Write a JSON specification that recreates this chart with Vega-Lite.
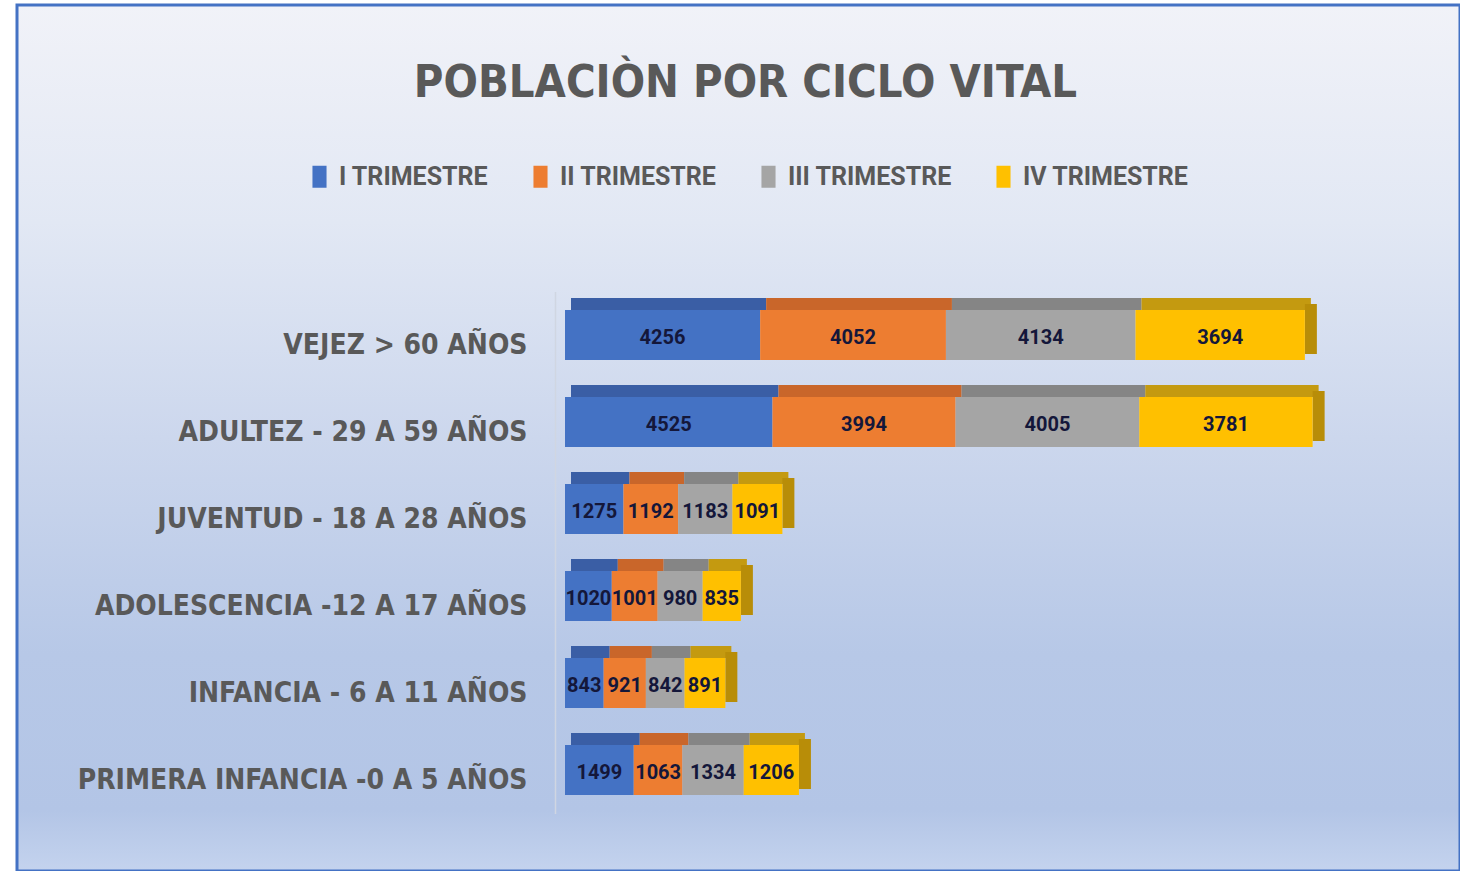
{
  "$schema": "https://vega.github.io/schema/vega-lite/v6.json",
  "autosize": {"type": "none"},
  "padding": {"left": 17, "top": 5, "right": 0, "bottom": 0},
  "width": 1443,
  "height": 866,
  "background": "#ffffff",
  "title": {
    "text": "POBLACIÒN POR CICLO VITAL",
    "orient": "top",
    "anchor": "middle",
    "frame": "group",
    "offset": -137,
    "dx": 7,
    "baseline": "alphabetic",
    "font": "DejaVu Sans Condensed, sans-serif",
    "fontSize": 45,
    "fontWeight": "bold",
    "color": "#595959"
  },
  "data": {
    "values": [
      {"ciclo": "VEJEZ > 60 AÑOS", "trimestre": "I TRIMESTRE", "q": 1, "valor": 4256},
      {"ciclo": "VEJEZ > 60 AÑOS", "trimestre": "II TRIMESTRE", "q": 2, "valor": 4052},
      {"ciclo": "VEJEZ > 60 AÑOS", "trimestre": "III TRIMESTRE", "q": 3, "valor": 4134},
      {"ciclo": "VEJEZ > 60 AÑOS", "trimestre": "IV TRIMESTRE", "q": 4, "valor": 3694},
      {"ciclo": "ADULTEZ -  29 A 59 AÑOS", "trimestre": "I TRIMESTRE", "q": 1, "valor": 4525},
      {"ciclo": "ADULTEZ -  29 A 59 AÑOS", "trimestre": "II TRIMESTRE", "q": 2, "valor": 3994},
      {"ciclo": "ADULTEZ -  29 A 59 AÑOS", "trimestre": "III TRIMESTRE", "q": 3, "valor": 4005},
      {"ciclo": "ADULTEZ -  29 A 59 AÑOS", "trimestre": "IV TRIMESTRE", "q": 4, "valor": 3781},
      {"ciclo": "JUVENTUD - 18 A 28 AÑOS", "trimestre": "I TRIMESTRE", "q": 1, "valor": 1275},
      {"ciclo": "JUVENTUD - 18 A 28 AÑOS", "trimestre": "II TRIMESTRE", "q": 2, "valor": 1192},
      {"ciclo": "JUVENTUD - 18 A 28 AÑOS", "trimestre": "III TRIMESTRE", "q": 3, "valor": 1183},
      {"ciclo": "JUVENTUD - 18 A 28 AÑOS", "trimestre": "IV TRIMESTRE", "q": 4, "valor": 1091},
      {"ciclo": "ADOLESCENCIA -12 A 17 AÑOS", "trimestre": "I TRIMESTRE", "q": 1, "valor": 1020},
      {"ciclo": "ADOLESCENCIA -12 A 17 AÑOS", "trimestre": "II TRIMESTRE", "q": 2, "valor": 1001},
      {"ciclo": "ADOLESCENCIA -12 A 17 AÑOS", "trimestre": "III TRIMESTRE", "q": 3, "valor": 980},
      {"ciclo": "ADOLESCENCIA -12 A 17 AÑOS", "trimestre": "IV TRIMESTRE", "q": 4, "valor": 835},
      {"ciclo": "INFANCIA -  6 A 11 AÑOS", "trimestre": "I TRIMESTRE", "q": 1, "valor": 843},
      {"ciclo": "INFANCIA -  6 A 11 AÑOS", "trimestre": "II TRIMESTRE", "q": 2, "valor": 921},
      {"ciclo": "INFANCIA -  6 A 11 AÑOS", "trimestre": "III TRIMESTRE", "q": 3, "valor": 842},
      {"ciclo": "INFANCIA -  6 A 11 AÑOS", "trimestre": "IV TRIMESTRE", "q": 4, "valor": 891},
      {"ciclo": "PRIMERA INFANCIA -0 A 5 AÑOS", "trimestre": "I TRIMESTRE", "q": 1, "valor": 1499},
      {"ciclo": "PRIMERA INFANCIA -0 A 5 AÑOS", "trimestre": "II TRIMESTRE", "q": 2, "valor": 1063},
      {"ciclo": "PRIMERA INFANCIA -0 A 5 AÑOS", "trimestre": "III TRIMESTRE", "q": 3, "valor": 1334},
      {"ciclo": "PRIMERA INFANCIA -0 A 5 AÑOS", "trimestre": "IV TRIMESTRE", "q": 4, "valor": 1206}
    ]
  },
  "encoding": {
    "y": {
      "field": "ciclo",
      "type": "nominal",
      "sort": null,
      "scale": {"range": [286.5, 808.5], "paddingInner": 0, "paddingOuter": 0},
      "axis": {
        "title": null,
        "offset": -538,
        "domainColor": "#d0d6e2",
        "domainWidth": 1.5,
        "ticks": false,
        "labelPadding": 28,
        "labelOffset": 11,
        "labelFont": "DejaVu Sans Condensed, sans-serif",
        "labelFontSize": 28,
        "labelFontWeight": "bold",
        "labelColor": "#595959",
        "labelLimit": 600
      }
    }
  },
  "layer": [
    {
      "mark": {"type": "bar", "height": 12, "yOffset": -31, "xOffset": 6},
      "encoding": {
        "x": {"field": "valor", "type": "quantitative", "stack": "zero",
              "scale": {"domain": [0, 19000], "range": [548, 1419.2], "nice": false}, "axis": null},
        "order": {"field": "q"},
        "fill": {
          "field": "q", "type": "ordinal", "legend": null,
          "scale": {"domain": [1, 2, 3, 4],
                    "range": ["#3a5ea5", "#c9662a", "#858585", "#c49a10"]}
        }
      }
    },
    {
      "mark": {"type": "tick", "thickness": 12, "size": 50, "xOffset": 6, "yOffset": -6, "color": "#b88d08", "opacity": 1},
      "encoding": {
        "x": {"aggregate": "sum", "field": "valor", "type": "quantitative"}
      }
    },
    {
      "mark": {"type": "bar", "height": 50},
      "encoding": {
        "x": {"field": "valor", "type": "quantitative", "stack": "zero"},
        "order": {"field": "q"},
        "color": {
          "field": "trimestre", "type": "nominal",
          "scale": {"domain": ["I TRIMESTRE", "II TRIMESTRE", "III TRIMESTRE", "IV TRIMESTRE"],
                    "range": ["#4472c4", "#ed7d31", "#a5a5a5", "#ffc000"]},
          "legend": {
            "title": null,
            "orient": "none",
            "direction": "horizontal",
            "legendX": 290,
            "legendY": 159,
            "padding": 0,
            "symbolType": "M-0.64,-1H0.64V1H-0.64Z",
            "symbolSize": 484,
            "symbolStrokeWidth": 0,
            "symbolOpacity": 1,
            "labelFont": "Roboto, sans-serif",
            "labelFontSize": 25,
            "labelFontWeight": "bold",
            "labelColor": "#595959",
            "labelLimit": 400,
            "labelOffset": 7,
            "columnPadding": 39
          }
        }
      }
    },
    {
      "mark": {"type": "text", "font": "Roboto, sans-serif",
               "fontSize": 20, "fontWeight": "bold", "color": "#14173a", "baseline": "middle", "dy": 3},
      "encoding": {
        "x": {"field": "valor", "type": "quantitative", "stack": "zero", "bandPosition": 0.5},
        "order": {"field": "q"},
        "detail": {"field": "trimestre"},
        "text": {"field": "valor", "type": "quantitative"}
      }
    }
  ],
  "config": {
    "view": {
      "stroke": "#4472c4",
      "strokeWidth": 3,
      "fill": {
        "gradient": "linear", "x1": 0, "y1": 0, "x2": 0, "y2": 1,
        "stops": [
          {"offset": 0, "color": "#f1f2f8"},
          {"offset": 0.25, "color": "#e2e8f4"},
          {"offset": 0.5, "color": "#ccd7ed"},
          {"offset": 0.75, "color": "#b7c8e7"},
          {"offset": 0.93, "color": "#b3c5e6"},
          {"offset": 1, "color": "#c4d3ee"}
        ]
      }
    }
  }
}
